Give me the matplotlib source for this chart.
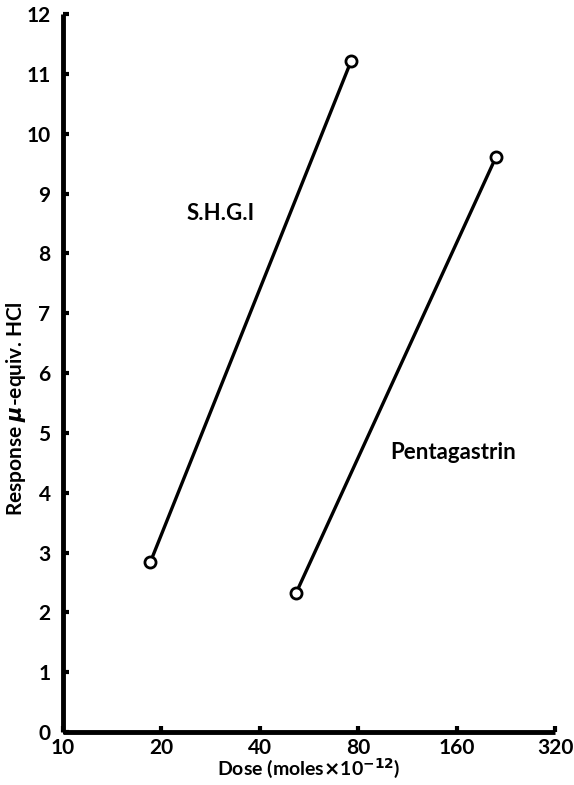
import matplotlib
matplotlib.use("Agg")
import matplotlib.pyplot as plt

# dose-response data (dose in moles x 10^-12, response in micro-equiv. HCl)
shgi_dose = [18.5, 76.0]
shgi_resp = [2.84, 11.21]
penta_dose = [51.6, 211.0]
penta_resp = [2.32, 9.61]

x_ticks = [10, 20, 40, 80, 160, 320]
x_labels = ["10", "20", "40", "80", "160", "320"]
y_ticks = list(range(0, 13))

plt.rcParams['font.family'] = ['Lato', 'DejaVu Sans']
plt.rcParams['font.weight'] = 'bold'

fig = plt.figure(figsize=(5.74, 7.85), dpi=100)
ax = fig.add_axes([0.1098, 0.0675, 0.967 - 0.1098, 0.982 - 0.0675])

for d, r in ((shgi_dose, shgi_resp), (penta_dose, penta_resp)):
    ax.plot(d, r, color='black', lw=2.4, marker='o', ms=8,
            mfc='white', mec='black', mew=2, solid_capstyle='butt', zorder=3)

ax.set_xscale('log', base=2)
ax.set_xlim(10, 320)
ax.set_ylim(0, 12)
ax.set_xticks(x_ticks, x_labels)
ax.minorticks_off()
ax.set_yticks(y_ticks)

for s in ('top', 'right'):
    ax.spines[s].set_visible(False)
for s in ('left', 'bottom'):
    ax.spines[s].set_linewidth(3.5)
    ax.spines[s].set_capstyle('butt')

ax.tick_params(axis='both', direction='in', length=4, width=3,
               labelsize=15, colors='black')
ax.tick_params(axis='x', pad=4)
ax.tick_params(axis='y', pad=9)

ax.text(30.4, 8.66, "S.H.G.I", fontsize=16, fontweight='bold',
        ha='center', va='center')
ax.text(156, 4.68, "Pentagastrin", fontsize=16, fontweight='bold',
        ha='center', va='center')

ax.set_xlabel(r"Dose (moles$\times$10$^{-12}$)", fontsize=14,
              fontweight='bold')
ax.xaxis.set_label_coords(0.5, -0.034)
ax.set_ylabel(r"Response $\mu$-equiv. HCl", fontsize=15,
              fontweight='bold')
ax.yaxis.set_label_coords(-0.071, 0.45)

fig.savefig("out.png", dpi=100)
